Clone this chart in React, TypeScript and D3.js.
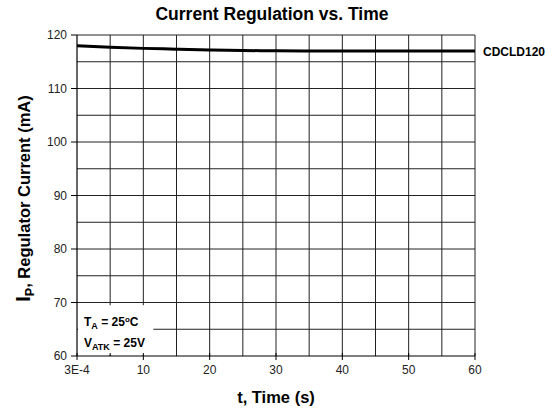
import React from "react";
import * as d3 from "d3";

const timeS = [0.0003, 5, 10, 15, 20, 25, 30, 35, 40, 45, 50, 55, 60];
const currentMA = [118.0, 117.7, 117.5, 117.35, 117.2, 117.1, 117.05, 117.0, 117.0, 117.0, 117.0, 117.0, 117.0];
const xTickValues = [0, 10, 20, 30, 40, 50, 60];
const xTickLabels = ["3E-4", "10", "20", "30", "40", "50", "60"];
const yTickValues = [60, 70, 80, 90, 100, 110, 120];
const xGrid = d3.range(5, 61, 5);
const yGrid = d3.range(65, 121, 5);

const W = 558, H = 410;
const L = 77, R = 475, T = 35, B = 356;
const FONT = "'Liberation Sans', Arial, sans-serif";

export default function App() {
  const x = d3.scaleLinear().domain([0, 60]).range([L, R]);
  const y = d3.scaleLinear().domain([60, 120]).range([B, T]);
  const line = d3.line<number>().x((_, i) => x(timeS[i])).y((d) => y(d)).curve(d3.curveMonotoneX);
  const gridColor = "#222";
  return (
    <svg width={W} height={H} style={{ position: "absolute", left: 0, top: 0, background: "#fff" }} fontFamily={FONT}>
      <rect width={W} height={H} fill="#fff" />
      {xGrid.map((v) => (
        <line key={"gx" + v} x1={x(v)} x2={x(v)} y1={T} y2={B} stroke={gridColor} strokeWidth={1} />
      ))}
      {yGrid.map((v) => (
        <line key={"gy" + v} x1={L} x2={R} y1={y(v)} y2={y(v)} stroke={gridColor} strokeWidth={1} />
      ))}
      <rect x={L + 1} y={y(69.5)} width={x(11.5) - L - 1} height={B - y(69.5) - 1} fill="#fff" />
      <line x1={L} x2={L} y1={T} y2={B} stroke="#000" strokeWidth={1.2} />
      <line x1={L} x2={R} y1={B} y2={B} stroke="#000" strokeWidth={1.2} />
      {yTickValues.map((v) => (
        <g key={"yt" + v}>
          <line x1={L - 6} x2={L} y1={y(v)} y2={y(v)} stroke="#000" />
          <text x={L - 10} y={y(v) + 4} textAnchor="end" fontSize={12} fill="#222">{v}</text>
        </g>
      ))}
      {xTickValues.map((v, i) => (
        <g key={"xt" + v}>
          <line x1={x(v)} x2={x(v)} y1={B - 3} y2={B + 4} stroke="#000" />
          <text x={x(v)} y={B + 18} textAnchor="middle" fontSize={12} fill="#222">{xTickLabels[i]}</text>
        </g>
      ))}
      <line x1={x(5)} x2={x(5)} y1={B - 3} y2={B} stroke="#000" />
      <path d={line(currentMA) || ""} fill="none" stroke="#000" strokeWidth={3} />
      <text x={483} y={56} fontSize={12} fontWeight="bold">CDCLD120</text>
      <text x={272} y={20} textAnchor="middle" fontSize={17.5} fontWeight="bold">Current Regulation vs. Time</text>
      <text x={276} y={403} textAnchor="middle" fontSize={16.5} fontWeight="bold">t, Time (s)</text>
      <text transform={`translate(30, ${(T + B) / 2 + 3}) rotate(-90)`} textAnchor="middle" fontSize={16.5} fontWeight="bold">
        <tspan fontSize={20}>I</tspan>
        <tspan fontSize={12.5} dy={4}>P</tspan>
        <tspan dy={-4}>, Regulator Current (mA)</tspan>
      </text>
      <text x={84} y={326} fontSize={12} fontWeight="bold">
        T<tspan fontSize={9} dy={3}>A</tspan><tspan dy={-3}> = 25</tspan><tspan fontSize={8} dy={-4}>o</tspan><tspan dy={4}>C</tspan>
      </text>
      <text x={84} y={347} fontSize={12} fontWeight="bold">
        V<tspan fontSize={9} dy={3}>ATK</tspan><tspan dy={-3}> = 25V</tspan>
      </text>
    </svg>
  );
}
